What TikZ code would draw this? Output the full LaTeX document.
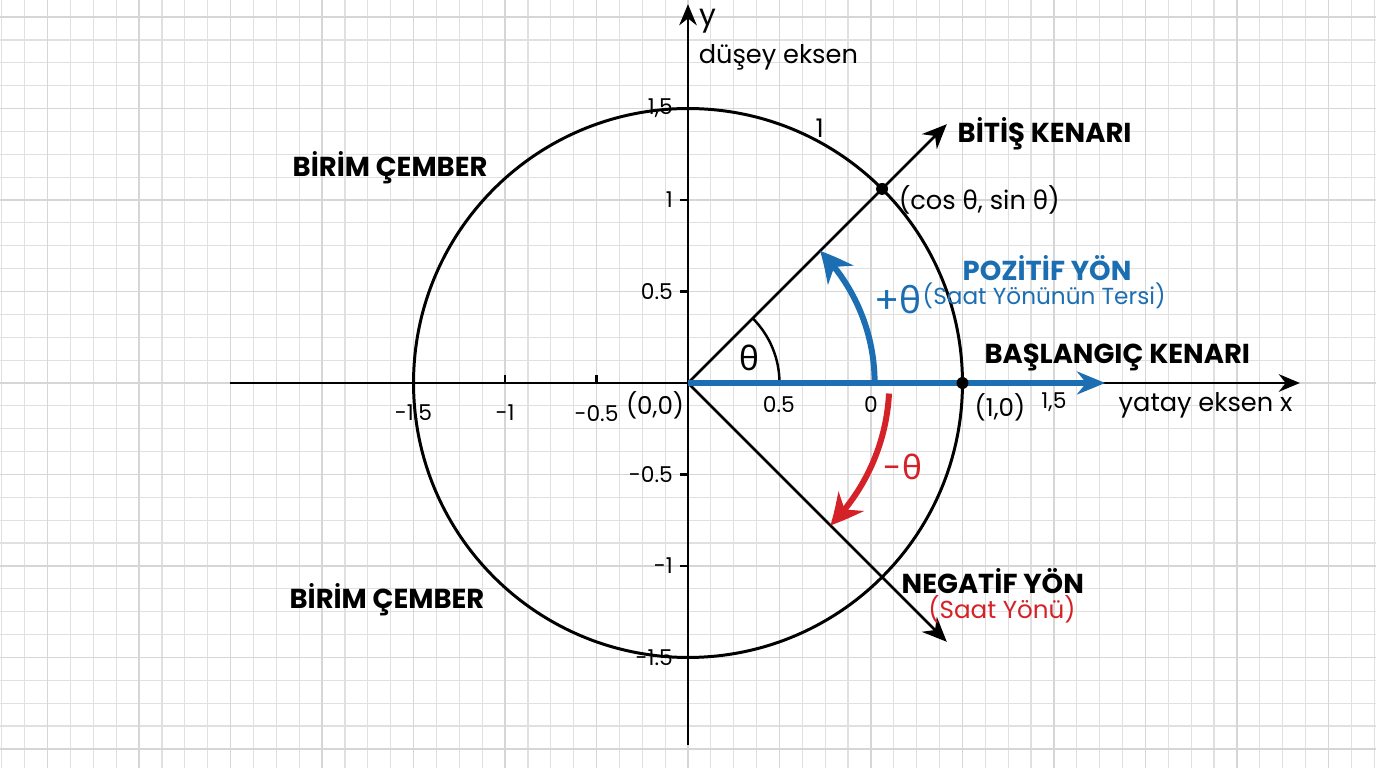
\documentclass[tikz,border=0pt]{standalone}
\usepackage{fontspec}
\setmainfont{Poppins}
\newfontfamily\greekfont{Noto Sans}
\newcommand{\thet}{{\greekfont θ}}
\usetikzlibrary{arrows.meta,bending}

\definecolor{posblue}{RGB}{28,110,178}
\definecolor{negred}{RGB}{212,34,40}
\definecolor{gridminor}{RGB}{224,224,224}
\definecolor{gridmajor}{RGB}{214,214,214}

\begin{document}
\begin{tikzpicture}[x=1.83cm,y=1.83cm,
  axisline/.style={line width=0.7pt,-{Stealth[length=6pt,width=5pt]}},
  sideline/.style={line width=0.75pt,-{Stealth[length=7pt,width=6pt]}},
  ticklbl/.style={font=\fontsize{6.2}{7}\selectfont,inner sep=1pt},
  caption/.style={font=\fontsize{7.8}{9}\selectfont\bfseries,inner sep=0pt},
  axislbl/.style={font=\fontsize{7.3}{8}\selectfont,inner sep=0pt},
  dot/.style={circle,fill=black,inner sep=0pt,minimum size=3.4pt}]
  \useasboundingbox (-3.76,-2.104) rectangle (3.76,2.093);

  % Grid
  \fill[white] (-3.76,-2.104) rectangle (3.76,2.093);
  \draw[gridminor,line width=0.35pt,step=0.125] (-3.76,-2.104) grid (3.76,2.093);
  \draw[gridmajor,line width=0.4pt,step=0.5] (-3.76,-2.104) grid (3.76,2.093);

  % Axes
  \coordinate (O) at (0,0);
  \coordinate (xl) at (-2.503,0);
  \coordinate (xr) at (3.344,0);
  \coordinate (yb) at (0,-1.978);
  \coordinate (yt) at (0,2.07);
  \draw[axisline] (xl) -- (xr);
  \draw[axisline] (yb) -- (yt);
  \node[axislbl,anchor=west] (ylbl) at (0.06,1.98) {\fontsize{8.5}{9}\selectfont y};
  \node[axislbl,anchor=west] (ydesc) at (0.055,1.78) {düşey eksen};
  \node[axislbl,anchor=west] (xdesc) at (2.35,-0.12) {yatay eksen x};

  % Ticks
  \foreach \y/\t in {1.5/{1,5},1/1,0.5/0.5,-0.5/-0.5,-1/-1,-1.5/-1.5}
    \draw[line width=0.6pt] (-0.045,\y) -- (0,\y) node[ticklbl,anchor=east,xshift=-3pt] {\t};
  \foreach \x/\t in {-1.5/-1.5,-1/-1,-0.5/-0.5}
    \draw[line width=0.6pt] (\x,0) -- (\x,0.045) node[ticklbl,pos=0,below=5pt] {\t};
  \node[ticklbl] (p05) at (0.497,-0.12) {0.5};
  \node[ticklbl] (p0) at (1.0,-0.12) {0};
  \node[ticklbl] (p15) at (2.0,-0.105) {1,5};
  \node[ticklbl,font=\fontsize{7}{8}\selectfont] (orig) at (-0.18,-0.12) {(0,0)};
  \node[ticklbl,font=\fontsize{7}{8}\selectfont] (one0) at (1.705,-0.135) {(1,0)};

  % Circle
  \draw[line width=0.85pt] (O) circle (1.5);
  \node[font=\fontsize{7.3}{8}\selectfont] (rad) at (0.72,1.395) {1};
  \node[caption] (bc1) at (-1.628,1.175) {BİRİM ÇEMBER};
  \node[caption] (bc2) at (-1.645,-1.186) {BİRİM ÇEMBER};

  % Terminal and negative sides
  \coordinate (T) at (45:2.0);
  \coordinate (N) at (-45:2.0);
  \draw[sideline] (O) -- (T);
  \draw[sideline] (O) -- (N);
  \node[caption,anchor=west] (bitis) at (1.47,1.361) {BİTİŞ KENARI};
  \node[caption,anchor=west] (negyon) at (1.164,-1.082) {NEGATİF YÖN};
  \node[negred,axislbl,font=\fontsize{7}{8}\selectfont] (saat) at (1.716,-1.235) {(Saat Yönü)};

  % Small angle
  \draw[line width=0.7pt] (0.5,0) arc[start angle=0,end angle=45,radius=0.5];
  \node[font=\fontsize{9.5}{10}\selectfont] (th) at (0.333,0.137) {\thet};

  % Initial side (positive)
  \coordinate (B) at (2.28,0);
  \draw[posblue,line width=1.7pt,-{Stealth[length=8pt,width=6.5pt]}] (O) -- (B);
  \node[caption,anchor=west] (basl) at (1.617,0.137) {BAŞLANGIÇ KENARI};

  % Positive direction
  \draw[posblue,line width=1.7pt,-{Stealth[length=9pt,width=9pt,bend]}]
    (1.02,0) arc[start angle=0,end angle=45,radius=1.02];
  \node[posblue,font=\fontsize{10.5}{11}\selectfont] (pth) at (1.148,0.454) {+\thet};
  \node[posblue,caption] (pozyon) at (1.962,0.628) {POZİTİF YÖN};
  \node[posblue,axislbl,font=\fontsize{6.6}{7}\selectfont,anchor=west] (ters) at (1.279,0.475) {(Saat Yönünün Tersi)};

  % Negative direction
  \draw[negred,line width=1.7pt,-{Stealth[length=9pt,width=9pt,bend]}]
    (-3:1.1) arc[start angle=-3,end angle=-45,radius=1.1];
  \node[negred,font=\fontsize{9.5}{10}\selectfont] (nth) at (1.175,-0.459) {-\thet};

  % Points
  \node[dot] (A) at (1.5,0) {};
  \node[dot] (P) at (45:1.5) {};
  \node[axislbl,anchor=west] (cs) at (1.148,1.0) {(cos \thet, sin \thet)};
\end{tikzpicture}
\end{document}
